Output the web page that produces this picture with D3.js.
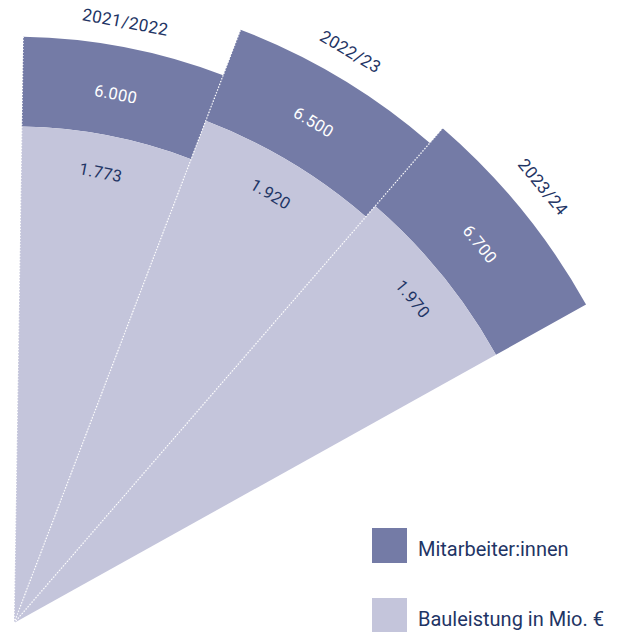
<!DOCTYPE html>
<meta charset="utf-8">
<script src="https://d3js.org/d3.v7.min.js"></script>
<style>
  body { margin: 0; background: #fff; }
  text { font-family: Roboto, "Noto Sans", sans-serif; }
</style>
<div id="screen"></div>
<script>

  // data
  var years = ["2021/2022", "2022/23", "2023/24"];
  var staff = [6000, 6500, 6700];          // Mitarbeiter:innen
  var output = [1773, 1920, 1970];         // Bauleistung in Mio. €
  var legendLabels = ["Mitarbeiter:innen", "Bauleistung in Mio. €"];

  var dark = "#747ba6",
      light = "#c4c5db",
      navy = "#1f3565";

  var width = 618, height = 632;
  var cx = 14, cy = 623;

  var svg = d3.select("#screen")
      .append("svg")
      .attr("width", width)
      .attr("height", height);

  var fmt = d3.formatLocale({decimal: ",", thousands: ".", grouping: [3], currency: ["", "€"]}).format(",d");

  // angle per year, 0 = straight up, clockwise
  var deg = Math.PI / 180;
  var ang = d3.scaleBand().domain(years).range([0.9 * deg, 60.9 * deg]).padding(0);
  var rStaff = d3.scaleLinear().domain([0, 7000]).range([0, 684]);
  var rOut = d3.scaleLinear().domain([0, 2000]).range([0, 560]);

  var arc = d3.arc();
  var g = svg.append("g").attr("transform", "translate(" + cx + "," + cy + ")");

  var rows = years.map(function(y, i) {
      return {year: y, staff: staff[i], out: output[i],
              a0: ang(y), a1: ang(y) + ang.bandwidth(), am: ang(y) + ang.bandwidth() / 2};
  });

  // outer band (staff)
  g.selectAll("path.staff").data(rows).enter().append("path")
      .attr("class", "staff")
      .attr("fill", dark)
      .attr("d", function(d) {
          return arc({innerRadius: rOut(d.out), outerRadius: rStaff(d.staff), startAngle: d.a0, endAngle: d.a1});
      });

  // inner sector (Bauleistung)
  g.selectAll("path.out").data(rows).enter().append("path")
      .attr("class", "out")
      .attr("fill", light)
      .attr("d", function(d) {
          return arc({innerRadius: 0, outerRadius: rOut(d.out), startAngle: d.a0, endAngle: d.a1});
      });

  // white dotted separators
  g.selectAll("line.sep").data(rows).enter().append("line")
      .attr("class", "sep")
      .attr("x1", 0).attr("y1", 0)
      .attr("x2", function(d) { return rStaff(d.staff) * Math.sin(d.a0); })
      .attr("y2", function(d) { return -rStaff(d.staff) * Math.cos(d.a0); })
      .attr("stroke", "#fff")
      .attr("stroke-width", 1.3)
      .attr("stroke-dasharray", "1.2 1.8");

  function place(r, a) {
      return "translate(" + (r * Math.sin(a)) + "," + (-r * Math.cos(a)) + ") rotate(" + (a / deg) + ")";
  }

  g.selectAll("text.year").data(rows).enter().append("text")
      .attr("class", "year")
      .attr("transform", function(d, i) { return place(rStaff(d.staff) + 25 + i * 3, d.am - 0.4 * deg); })
      .attr("text-anchor", "middle")
      .attr("dominant-baseline", "central")
      .attr("fill", navy)
      .style("font-size", "17px")
      .style("letter-spacing", "0.4px")
      .text(function(d) { return d.year; });

  g.selectAll("text.sv").data(rows).enter().append("text")
      .attr("class", "sv")
      .attr("transform", function(d) { return place((rOut(d.out) + rStaff(d.staff)) / 2 - 3, d.am); })
      .attr("text-anchor", "middle")
      .attr("dominant-baseline", "central")
      .attr("fill", "#fff")
      .style("font-size", "16.5px")
      .style("letter-spacing", "0.4px")
      .text(function(d) { return fmt(d.staff); });

  g.selectAll("text.ov").data(rows).enter().append("text")
      .attr("class", "ov")
      .attr("transform", function(d) { return place(rOut(d.out) - 38, d.am); })
      .attr("text-anchor", "middle")
      .attr("dominant-baseline", "central")
      .attr("fill", navy)
      .style("font-size", "16.5px")
      .style("letter-spacing", "0.4px")
      .text(function(d) { return fmt(d.out); });

  // legend
  var leg = svg.append("g").attr("transform", "translate(372,528)");
  var li = leg.selectAll("g").data(legendLabels).enter().append("g")
      .attr("transform", function(d, i) { return "translate(0," + (i * 70) + ")"; });
  li.append("rect")
      .attr("width", 35).attr("height", 35)
      .attr("fill", function(d, i) { return i === 0 ? dark : light; });
  li.append("text")
      .attr("x", 46).attr("y", 28)
      .attr("fill", navy)
      .style("font-size", "20px")
      .text(function(d) { return d; });

</script>
